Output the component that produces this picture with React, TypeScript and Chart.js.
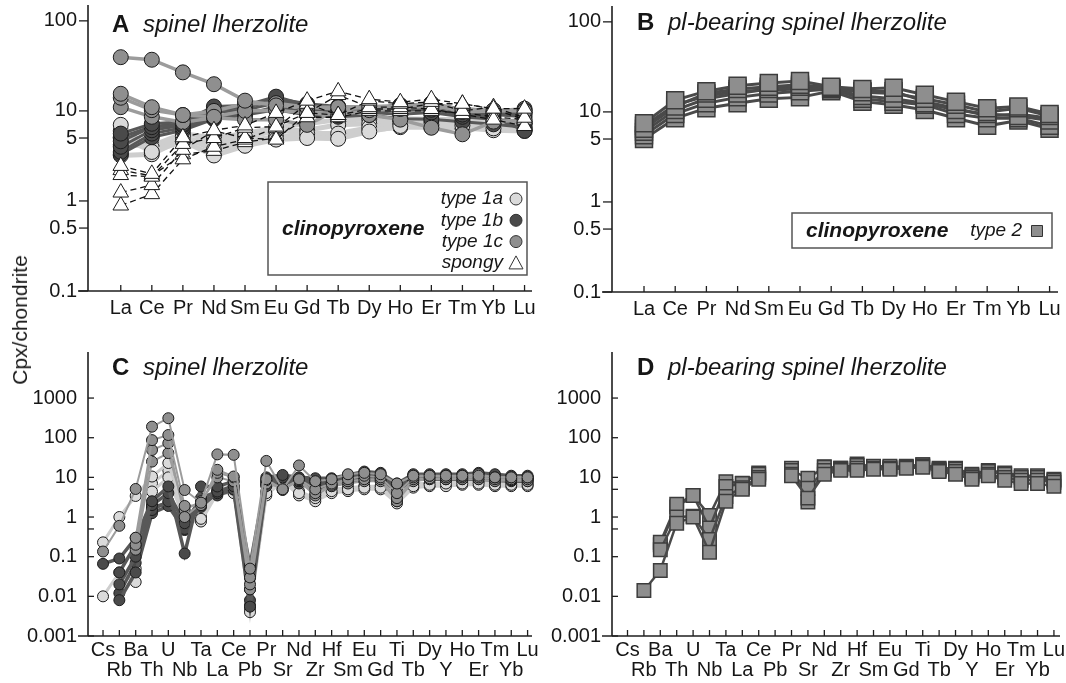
import React, { useEffect, useRef } from "react";
import { Chart, registerables } from "chart.js";

Chart.register(...registerables);

const FONT = "'Liberation Sans', Arial, Helvetica, sans-serif";
const TEXT = "#161616";
const AXIS = "#1e1e1e";

// ---------------- categories and tick labels ----------------
const REE = ["La", "Ce", "Pr", "Nd", "Sm", "Eu", "Gd", "Tb", "Dy", "Ho", "Er", "Tm", "Yb", "Lu"];
const SPIDER = ["Cs", "Rb", "Ba", "Th", "U", "Nb", "Ta", "La", "Ce", "Pb", "Pr", "Sr", "Nd", "Zr", "Hf", "Sm", "Eu", "Gd", "Ti", "Tb", "Dy", "Y", "Ho", "Er", "Tm", "Yb", "Lu"];
const REE_Y_TICKS = [0.1, 0.5, 1, 5, 10, 100];
const REE_Y_LABELS = ["0.1", "0.5", "1", "5", "10", "100"];
const SPIDER_Y_TICKS = [0.001, 0.01, 0.1, 1, 10, 100, 1000];
const SPIDER_Y_LABELS = ["0.001", "0.01", "0.1", "1", "10", "100", "1000"];
const SPIDER_Y_MINOR = [0.5, 5];

// ---------------- Panel A: REE, spinel lherzolite ----------------
const A_TYPE1A = [
  [7.0, 3.5, 4.6, 3.2, 4.1, 4.8, 5.0, 4.9, 5.9, 6.8, 7.0, 6.9, 6.4, 6.4],
  [6.0, 3.9, 5.2, 3.7, 4.6, 5.1, 5.6, 5.6, 6.5, 7.2, 7.4, 7.1, 6.6, 6.2],
  [3.2, 3.3, 4.9, 4.5, 5.1, 6.0, 6.1, 7.0, 7.2, 7.6, 8.0, 7.6, 7.1, 7.0],
  [4.2, 4.1, 5.6, 5.0, 5.6, 6.6, 7.2, 8.0, 8.1, 8.2, 8.1, 8.0, 7.6, 7.5],
  [5.0, 3.6, 4.8, 4.1, 4.5, 5.2, 5.3, 5.2, 6.1, 6.6, 6.6, 6.5, 6.1, 6.0],
];
const A_TYPE1B = [
  [5.6, 7.2, 7.6, 11.2, 11.5, 14.4, 11.5, 11.0, 11.2, 11.4, 12.0, 10.4, 9.6, 9.2],
  [4.6, 6.6, 7.1, 10.2, 11.0, 13.2, 11.0, 10.4, 10.8, 10.6, 11.2, 9.8, 9.1, 8.6],
  [4.0, 6.1, 6.9, 9.6, 10.2, 12.2, 10.4, 10.0, 10.2, 10.1, 10.3, 9.1, 8.6, 6.0],
  [3.5, 5.6, 6.5, 8.6, 9.1, 11.2, 9.6, 9.1, 9.6, 9.2, 9.6, 8.6, 8.1, 7.6],
  [5.1, 6.7, 7.2, 10.7, 10.8, 13.7, 12.0, 11.2, 10.6, 11.6, 11.8, 10.6, 10.1, 9.6],
  [3.3, 5.1, 6.1, 8.1, 9.0, 10.3, 9.0, 8.6, 9.0, 8.2, 8.1, 7.6, 7.1, 6.6],
];
const A_TYPE1C = [
  [39.5, 37.0, 26.8, 19.8, 13.0, 11.5, 11.0, 11.0, 11.2, 11.0, 11.2, 10.5, 10.2, 10.0],
  [15.5, 11.0, 9.0, 8.6, 10.0, 10.2, 9.5, 9.0, 10.2, 10.5, 11.8, 9.8, 10.0, 10.2],
  [14.0, 10.2, 9.0, 10.0, 12.0, 12.2, 11.0, 10.5, 11.0, 11.2, 12.2, 10.2, 10.0, 10.6],
  [11.0, 8.6, 7.5, 8.4, 8.0, 8.0, 7.0, 10.4, 9.0, 8.0, 6.5, 5.5, 7.6, 8.0],
];
const A_SPONGY = [
  [2.45, 2.0, 5.1, 6.1, 6.9, 9.5, 13.0, 16.5, 13.5, 12.5, 13.5, 12.0, 10.6, 10.6],
  [1.94, 1.86, 4.3, 5.0, 6.5, 6.7, 9.5, 9.0, 13.0, 12.0, 12.6, 10.0, 11.0, 8.4],
  [1.24, 1.5, 3.7, 6.0, 5.0, 4.8, 9.5, 15.0, 11.0, 11.0, 10.5, 9.2, 8.0, 6.8],
  [0.89, 1.19, 2.9, 4.0, 4.8, 6.5, 12.0, 9.0, 10.5, 10.5, 12.0, 12.0, 10.5, 8.0],
  [2.2, 1.9, 3.3, 3.6, 4.5, 5.0, 8.5, 8.5, 10.0, 10.0, 10.0, 9.5, 8.6, 8.0],
];

// ---------------- Panel B: REE, pl-bearing spinel lherzolite ----------------
const B_TYPE2 = [
  [7.5, 13.5, 17.0, 19.5, 21.0, 22.0, 19.0, 18.0, 18.5, 15.5, 13.0, 11.0, 11.5, 9.5],
  [6.5, 11.5, 16.0, 18.0, 19.0, 20.0, 18.5, 16.5, 16.0, 14.0, 12.0, 10.0, 11.0, 9.0],
  [6.0, 10.5, 14.0, 16.0, 18.0, 19.0, 18.0, 15.0, 14.0, 12.5, 10.5, 9.5, 9.0, 8.0],
  [5.5, 9.5, 12.5, 14.5, 16.0, 17.0, 18.0, 14.0, 13.0, 12.0, 9.5, 8.5, 8.5, 7.0],
  [5.0, 8.5, 11.0, 12.5, 14.0, 14.5, 17.0, 13.0, 12.0, 10.5, 8.5, 7.0, 8.0, 6.5],
  [7.0, 12.0, 15.0, 17.0, 17.5, 18.0, 18.0, 17.0, 17.0, 13.0, 11.0, 9.0, 9.5, 8.5],
];

// ---------------- Panel C: spider, spinel lherzolite ----------------
const C_TYPE1A = [
  [0.23, 1.0, 3.4, 10.5, 23, 1.2, 0.9, 5.0, 6.0, 0.004, 4.0, 8.0, 4.0, 3.0, 4.5, 5.0, 5.5, 5.5, 2.5, 6.0, 6.5, 7.0, 7.0, 7.0, 6.5, 6.5, 6.5],
  [0.01, 0.04, 0.023, 4.4, 10, 0.8, 0.77, 4.0, 4.0, 0.005, 3.5, 8.0, 3.5, 2.5, 4.0, 4.5, 5.0, 5.0, 2.2, 5.5, 6.0, 6.0, 6.5, 6.5, 6.0, 6.0, 6.0],
  [null, null, 0.05, 7.0, 15, 1.0, 1.1, 4.5, 5.0, 0.006, 4.5, 9.0, 4.5, 3.0, 5.0, 5.5, 6.0, 6.0, 3.0, 7.0, 7.0, 7.5, 7.5, 7.5, 7.0, 7.0, 7.0],
];
const C_TYPE1B = [
  [0.066, 0.09, 0.3, 2.5, 5.9, 0.12, 5.9, 5.9, 7.9, 0.06, 10, 11.5, 10, 9.5, 9.5, 11.5, 14, 13, 7.0, 12, 12, 12, 12, 13, 12, 11, 11],
  [null, 0.04, 0.2, 2.0, 4.0, 0.7, 3.0, 4.4, 6.0, 0.03, 8.0, 10, 9.0, 8.0, 8.5, 10, 12, 11, 6.0, 11, 11, 11, 11, 11.5, 11, 10, 10],
  [null, 0.02, 0.1, 1.5, 2.5, 0.5, 2.0, 4.0, 5.0, 0.015, 7.0, 9.0, 8.0, 6.0, 7.0, 9.0, 10, 10, 5.0, 10, 10, 10, 10, 10, 10, 9.0, 9.0],
  [null, 0.008, 0.04, 1.25, 1.9, 0.47, 2.5, 3.5, 4.9, 0.0055, 6.0, 8.0, 7.0, 5.0, 6.0, 8.0, 9.0, 9.0, 4.5, 9.0, 9.0, 9.0, 9.0, 9.0, 8.5, 8.0, 8.0],
  [null, 0.012, 0.07, 1.8, 2.2, 0.6, 1.8, 4.2, 5.5, 0.008, 6.5, 9.5, 7.5, 7.0, 8.0, 9.5, 11, 10.5, 5.5, 10.5, 10.5, 10.5, 10.5, 10.5, 10, 9.5, 9.5],
];
const C_TYPE1C = [
  [0.135, 0.6, 5.1, 190, 310, 4.8, 2.3, 38, 37, 0.05, 26, 5.0, 20, 8.0, 9.0, 12, 13, 12, 7.0, 11, 11, 11, 11, 11, 10, 10, 10],
  [null, null, 0.3, 87, 117, 1.9, 2.0, 15.5, 10.5, 0.03, 9.0, 5.0, 9.0, 5.0, 7.0, 9.0, 11, 10, 4.0, 10, 11, 10, 11, 12, 10, 10, 10],
  [null, null, 0.2, 49, 73, 1.0, 2.2, 13, 10, 0.02, 8.5, 4.8, 8.5, 4.0, 6.5, 8.0, 9.0, 9.0, 3.0, 9.0, 9.5, 9.0, 10, 10, 9.0, 9.0, 9.0],
  [null, null, 0.15, 25, 41, 1.5, 2.5, 10, 8.0, 0.015, 7.0, 5.5, 8.0, 3.5, 6.0, 7.0, 8.0, 8.0, 2.5, 8.0, 9.0, 9.0, 9.0, 9.0, 8.0, 8.5, 8.0],
];

// ---------------- Panel D: spider, pl-bearing spinel lherzolite ----------------
const D_TYPE2 = [
  [null, 0.014, 0.045, 0.7, 1.0, 0.13, 2.5, 5.0, 9.0, null, 11, 3.0, 12, 15, 15, 16, 16, 17, 18, 14, 12, 9.0, 11, 8.5, 7.0, 7.0, 6.0],
  [null, null, 0.15, 1.0, 1.05, 0.27, 3.3, 5.5, 10, null, 12, 5.3, 15, 16, 17, 17, 17, 18, 19, 15, 14, 10, 12, 10, 8.5, 8.5, 7.5],
  [null, null, 0.23, 2.1, 3.5, 0.53, 5.9, 7.0, 12, null, 15, 9.5, 18, 17, 20, 19, 19, 18, 21, 16, 16, 11, 14, 12, 10, 10, 8.5],
  [null, null, 0.2, 1.8, 3.5, 1.1, 7.8, 7.1, 13, null, 17, 2.4, 18.6, 17, 21.8, 18.5, 18, 19, 21, 17, 17, 12, 15, 13, 11, 11, 9.0],
];

// ---------------- styles ----------------
const ST_1A = { fill: "#dadada", line: "#cecece", width: 5, dash: [] as number[] };
const ST_1B = { fill: "#4a4a4a", line: "#585858", width: 3, dash: [] as number[] };
const ST_1C = { fill: "#8f8f8f", line: "#9c9c9c", width: 3.5, dash: [] as number[] };
const ST_SP = { fill: "#ffffff", line: "#111111", width: 1.3, dash: [6, 4] };
const ST_T2 = { fill: "#8e8e8e", line: "#4a4a4a", width: 3, dash: [] as number[] };
const ST_1A_C = { ...ST_1A, width: 3 };
const ST_1B_C = { ...ST_1B, width: 3.5 };
const ST_1C_C = { ...ST_1C, width: 2 };

function series(vals: (number | null)[], st: any, pointStyle: string, radius: number, border = "#1c1c1c", bw = 1) {
  return {
    data: vals.map((y, x) => ({ x, y })),
    borderColor: st.line,
    borderWidth: st.width,
    borderDash: st.dash,
    backgroundColor: st.fill,
    pointBackgroundColor: st.fill,
    pointBorderColor: border,
    pointBorderWidth: bw,
    pointRadius: radius,
    pointHoverRadius: radius,
    pointStyle,
    spanGaps: false,
    tension: 0,
    clip: false,
  };
}

type Panel = {
  id: string;
  left: number; top: number; w: number; h: number;
  padTop: number; padRight: number; yW: number; xH: number; xPad: number;
  xMin: number; xMax: number; yMin: number; yMax: number;
  cats: string[]; twoRow: boolean;
  yTicks: number[]; yLabels: string[]; yMinor: number[]; ticksIn: boolean;
  letter: string; title: string; letterX: number; titleX: number; titleY: number;
  datasets: () => any[];
};

const PANELS: Panel[] = [
  {
    id: "A", left: 0, top: 0, w: 548, h: 335, padTop: 5, padRight: 16, yW: 88, xH: 44, xPad: 5,
    xMin: -1.055, xMax: 13.24, yMin: 0.1, yMax: 150, cats: REE, twoRow: false,
    yTicks: REE_Y_TICKS, yLabels: REE_Y_LABELS, yMinor: [], ticksIn: false,
    letter: "A", title: "spinel lherzolite", letterX: 112, titleX: 143, titleY: 25,
    datasets: () => [
      ...A_SPONGY.map((v) => series(v, ST_SP, "triangle", 9)),
      ...A_TYPE1C.map((v) => series(v, ST_1C, "circle", 7.5)),
      ...A_TYPE1B.map((v) => series(v, ST_1B, "circle", 7.5)),
      ...A_TYPE1A.map((v) => series(v, ST_1A, "circle", 7.5)),
    ],
  },
  {
    id: "B", left: 533, top: 0, w: 533, h: 335, padTop: 6, padRight: 8, yW: 79, xH: 43, xPad: 5,
    xMin: -1.026, xMax: 13.27, yMin: 0.1, yMax: 150, cats: REE, twoRow: false,
    yTicks: REE_Y_TICKS, yLabels: REE_Y_LABELS, yMinor: [], ticksIn: false,
    letter: "B", title: "pl-bearing spinel lherzolite", letterX: 104, titleX: 135, titleY: 23,
    datasets: () => B_TYPE2.map((v) => series(v, ST_T2, "rect", 12, "#3c3c3c", 1.5)),
  },
  {
    id: "C", left: 0, top: 335, w: 548, h: 348, padTop: 17, padRight: 16, yW: 88, xH: 47, xPad: 4,
    xMin: -0.92, xMax: 26.27, yMin: 0.001, yMax: 14500, cats: SPIDER, twoRow: true,
    yTicks: SPIDER_Y_TICKS, yLabels: SPIDER_Y_LABELS, yMinor: SPIDER_Y_MINOR, ticksIn: true,
    letter: "C", title: "spinel lherzolite", letterX: 112, titleX: 143, titleY: 33,
    datasets: () => [
      ...C_TYPE1C.map((v) => series(v, ST_1C_C, "circle", 5.5)),
      ...C_TYPE1B.map((v) => series(v, ST_1B_C, "circle", 5.5)),
      ...C_TYPE1A.map((v) => series(v, ST_1A_C, "circle", 5.5)),
    ],
  },
  {
    id: "D", left: 533, top: 335, w: 533, h: 348, padTop: 17, padRight: 6, yW: 79, xH: 47, xPad: 4,
    xMin: -0.945, xMax: 26.37, yMin: 0.001, yMax: 14500, cats: SPIDER, twoRow: true,
    yTicks: SPIDER_Y_TICKS, yLabels: SPIDER_Y_LABELS, yMinor: SPIDER_Y_MINOR, ticksIn: true,
    letter: "D", title: "pl-bearing spinel lherzolite", letterX: 104, titleX: 135, titleY: 33,
    datasets: () => D_TYPE2.map((v) => series(v, { ...ST_T2, width: 2.5 }, "rect", 9.5, "#3c3c3c", 1.5)),
  },
];

function seg(ctx: CanvasRenderingContext2D, x1: number, y1: number, x2: number, y2: number) {
  ctx.beginPath();
  ctx.moveTo(x1, y1);
  ctx.lineTo(x2, y2);
  ctx.stroke();
}

function marker(ctx: CanvasRenderingContext2D, kind: string, x: number, y: number, fill: string) {
  ctx.save();
  ctx.fillStyle = fill;
  ctx.strokeStyle = "#333";
  ctx.lineWidth = 1;
  ctx.beginPath();
  if (kind === "circle") {
    ctx.arc(x, y, 6, 0, Math.PI * 2);
  } else if (kind === "triangle") {
    ctx.moveTo(x, y - 7);
    ctx.lineTo(x + 7, y + 6);
    ctx.lineTo(x - 7, y + 6);
    ctx.closePath();
  } else {
    ctx.rect(x - 5.5, y - 5.5, 11, 11);
  }
  ctx.fill();
  ctx.stroke();
  ctx.restore();
}

function makeDecor(p: Panel) {
  return {
    id: "decor" + p.id,
    afterDatasetsDraw(chart: any) {
      const { ctx, chartArea: a, scales } = chart;
      const xs = scales.x;
      const ys = scales.y;
      ctx.save();
      ctx.strokeStyle = AXIS;
      ctx.lineWidth = 1.6;
      seg(ctx, a.left, a.top, a.left, a.bottom);
      seg(ctx, a.left - 10, a.bottom, a.right, a.bottom);
      ctx.lineWidth = 1.3;
      for (const v of p.yTicks) {
        const y = ys.getPixelForValue(v);
        if (p.ticksIn) seg(ctx, a.left, y, a.left + 6, y);
        else seg(ctx, a.left - 9, y, a.left, y);
      }
      for (const v of p.yMinor) {
        const y = ys.getPixelForValue(v);
        seg(ctx, a.left, y, a.left + 6, y);
      }
      p.cats.forEach((_, i) => {
        const x = xs.getPixelForValue(i);
        seg(ctx, x, a.bottom, x, a.bottom - 6);
      });

      // panel title
      ctx.fillStyle = TEXT;
      ctx.textBaseline = "middle";
      ctx.textAlign = "left";
      ctx.font = `bold 24px ${FONT}`;
      ctx.fillText(p.letter, p.letterX, p.titleY);
      ctx.font = `italic 24px ${FONT}`;
      ctx.fillText(p.title, p.titleX, p.titleY);

      // legends
      if (p.id === "A") {
        ctx.fillStyle = "#fff";
        ctx.strokeStyle = "#555";
        ctx.lineWidth = 1.5;
        ctx.fillRect(268, 182, 259, 93);
        ctx.strokeRect(268, 182, 259, 93);
        ctx.fillStyle = TEXT;
        ctx.font = `italic bold 21px ${FONT}`;
        ctx.textAlign = "left";
        ctx.fillText("clinopyroxene", 282, 229);
        ctx.font = `italic 19px ${FONT}`;
        ctx.textAlign = "right";
        const rows = [
          { t: "type 1a", k: "circle", f: ST_1A.fill },
          { t: "type 1b", k: "circle", f: ST_1B.fill },
          { t: "type 1c", k: "circle", f: ST_1C.fill },
          { t: "spongy", k: "triangle", f: "#fff" },
        ];
        rows.forEach((r, i) => {
          const y = 199 + i * 21.3;
          ctx.fillStyle = TEXT;
          ctx.fillText(r.t, 503, y);
          marker(ctx, r.k, 516, y, r.f);
        });
      }
      if (p.id === "B") {
        ctx.fillStyle = "#fff";
        ctx.strokeStyle = "#555";
        ctx.lineWidth = 1.5;
        ctx.fillRect(259, 213, 260, 35);
        ctx.strokeRect(259, 213, 260, 35);
        ctx.fillStyle = TEXT;
        ctx.font = `italic bold 21px ${FONT}`;
        ctx.textAlign = "left";
        ctx.fillText("clinopyroxene", 273, 231);
        ctx.font = `italic 19px ${FONT}`;
        ctx.textAlign = "right";
        ctx.fillText("type 2", 489, 231);
        marker(ctx, "rect", 504, 231, ST_T2.fill);
      }
      ctx.restore();
    },
  };
}

function buildConfig(p: Panel): any {
  return {
    type: "line",
    data: { datasets: p.datasets() },
    options: {
      responsive: false,
      animation: false,
      devicePixelRatio: 1,
      events: [],
      layout: { autoPadding: false, padding: { top: p.padTop, right: p.padRight, left: 0, bottom: 0 } },
      plugins: { legend: { display: false }, tooltip: { enabled: false }, title: { display: false } },
      scales: {
        x: {
          type: "linear",
          position: "bottom",
          min: p.xMin,
          max: p.xMax,
          bounds: "data",
          grid: { display: false, drawTicks: false },
          border: { display: false },
          afterBuildTicks: (s: any) => {
            s.ticks = p.cats.map((_, i) => ({ value: i }));
          },
          afterFit: (s: any) => {
            s.height = p.xH;
            s.paddingLeft = 0;
            s.paddingRight = 0;
          },
          ticks: {
            autoSkip: false,
            maxRotation: 0,
            minRotation: 0,
            padding: p.xPad,
            color: TEXT,
            font: { family: FONT, size: 20, lineHeight: p.twoRow ? 1.0 : 1.2 },
            callback: (_v: any, i: number) =>
              p.twoRow ? (i % 2 === 0 ? [p.cats[i], ""] : ["", p.cats[i]]) : p.cats[i],
          },
        },
        y: {
          type: "logarithmic",
          position: "left",
          min: p.yMin,
          max: p.yMax,
          bounds: "data",
          grid: { display: false, drawTicks: false },
          border: { display: false },
          afterBuildTicks: (s: any) => {
            s.ticks = p.yTicks.map((v) => ({ value: v }));
          },
          afterFit: (s: any) => {
            s.width = p.yW;
            s.paddingTop = 0;
            s.paddingBottom = 0;
          },
          ticks: {
            padding: 11,
            color: TEXT,
            font: { family: FONT, size: 20 },
            callback: (_v: any, i: number) => p.yLabels[i],
          },
        },
      },
    },
    plugins: [makeDecor(p)],
  };
}

export default function App() {
  const refs = useRef<(HTMLCanvasElement | null)[]>([]);
  useEffect(() => {
    document.body.style.margin = "0";
    const charts = PANELS.map((p, i) => new Chart(refs.current[i] as HTMLCanvasElement, buildConfig(p)));
    return () => charts.forEach((c) => c.destroy());
  }, []);
  return (
    <div style={{ position: "relative", width: 1066, height: 683, background: "#fff", overflow: "hidden" }}>
      {PANELS.map((p, i) => (
        <canvas
          key={p.id}
          ref={(el) => {
            refs.current[i] = el;
          }}
          width={p.w}
          height={p.h}
          style={{ position: "absolute", left: p.left, top: p.top, width: p.w, height: p.h }}
        />
      ))}
      <div
        style={{
          position: "absolute",
          left: 20,
          top: 320,
          transform: "translate(-50%, -50%) rotate(-90deg)",
          font: `21px ${FONT}`,
          color: TEXT,
          whiteSpace: "nowrap",
        }}
      >
        Cpx/chondrite
      </div>
    </div>
  );
}
